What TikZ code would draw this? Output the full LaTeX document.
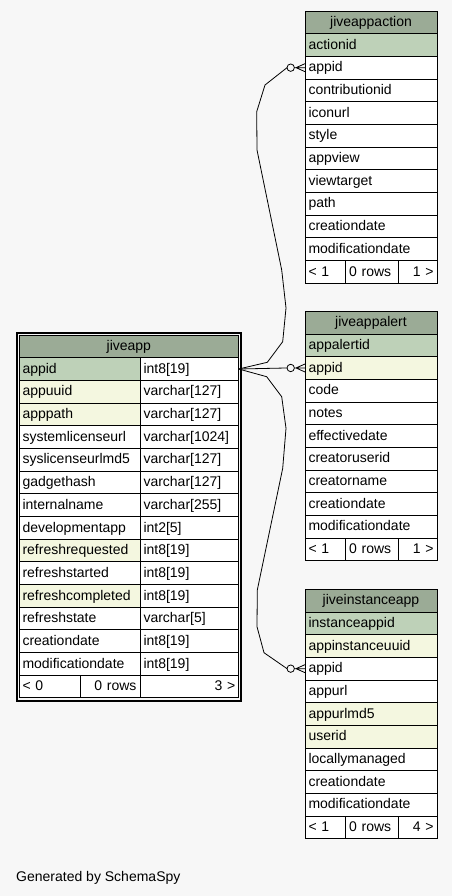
\documentclass[tikz,border=0pt]{standalone}
\usepackage{fontspec}
\setmainfont{Liberation Sans}
\usetikzlibrary{calc}
\definecolor{bgcol}{HTML}{F7F7F7}
\definecolor{headcol}{HTML}{9BAB96}
\definecolor{keycol}{HTML}{BED1B8}
\definecolor{idxcol}{HTML}{F4F7E0}
\hyphenpenalty=10000
\exhyphenpenalty=10000

\tikzset{
  cell/.style={draw, line width=0.9pt, anchor=north west, minimum height=22.67,
    inner xsep=3.5, inner ysep=0, outer sep=0, text height=10.8, text depth=2.2,
    font=\fontsize{14}{16}\selectfont},
  col/.style={cell, fill=white, align=left},
  key/.style={cell, fill=keycol, align=left},
  idx/.style={cell, fill=idxcol, align=left},
  head/.style={cell, fill=headcol, align=center},
  rcol/.style={cell, fill=white, align=right},
  fk/.style={line width=0.8pt},
}

\begin{document}
\begin{tikzpicture}[x=1pt,y=-1pt]
\fill[bgcol] (0,0) rectangle (452,896);
\useasboundingbox (0,0) rectangle (452,896);

% jiveappaction
\node[head, text width=125] (act) at (305,11) {jiveappaction};
\foreach \cname/\sty [count=\i] in {actionid/key, appid/col, contributionid/col,
    iconurl/col, style/col, appview/col, viewtarget/col, path/col,
    creationdate/col, modificationdate/col}
  \node[\sty, text width=125] (act-\cname) at (305,11+\i*22.67) {\cname};
\node[col, text width=33.7] (act-prev) at (305,260.4) {< 1};
\node[col, text width=45.6] (act-rows) at (345.7,260.4) {0 rows};
\node[rcol, text width=31.7] (act-next) at (398.3,260.4) {1 >};

% jiveappalert
\node[head, text width=125] (alert) at (305,311.3) {jiveappalert};
\foreach \cname/\sty [count=\i] in {appalertid/key, appid/idx, code/col, notes/col,
    effectivedate/col, creatoruserid/col, creatorname/col, creationdate/col,
    modificationdate/col}
  \node[\sty, text width=125] (alert-\cname) at (305,311.3+\i*22.67) {\cname};
\node[col, text width=33.7] (alert-prev) at (305,538) {< 1};
\node[col, text width=45.6] (alert-rows) at (345.7,538) {0 rows};
\node[rcol, text width=31.7] (alert-next) at (398.3,538) {1 >};

% jiveinstanceapp
\node[head, text width=125] (inst) at (305,589.3) {jiveinstanceapp};
\foreach \cname/\sty [count=\i] in {instanceappid/key, appinstanceuuid/idx, appid/col,
    appurl/col, appurlmd5/idx, userid/idx, locallymanaged/col, creationdate/col,
    modificationdate/col}
  \node[\sty, text width=125] (inst-\cname) at (305,589.3+\i*22.67) {\cname};
\node[col, text width=33.7] (inst-prev) at (305,816) {< 1};
\node[col, text width=45.6] (inst-rows) at (345.7,816) {0 rows};
\node[rcol, text width=31.7] (inst-next) at (398.3,816) {4 >};

% jiveapp
\draw[line width=1.8pt] (17,333) rectangle (240.8,700.8);
\node[head, text width=212.7] (app) at (19,335) {jiveapp};
\foreach \cname/\sty/\ctype [count=\i] in {appid/key/int8[19], appuuid/idx/varchar[127],
    apppath/idx/varchar[127], systemlicenseurl/col/varchar[1024],
    syslicenseurlmd5/col/varchar[127], gadgethash/col/varchar[127],
    internalname/col/varchar[255], developmentapp/col/int2[5],
    refreshrequested/idx/int8[19], refreshstarted/col/int8[19],
    refreshcompleted/idx/int8[19], refreshstate/col/varchar[5],
    creationdate/col/int8[19], modificationdate/col/int8[19]}{
  \node[\sty, text width=114] (app-\cname) at (19,335+\i*22.67) {\cname};
  \node[col, text width=91.7] (app-\cname-t) at (140,335+\i*22.67) {\ctype};
}
\node[col, text width=54.7] (app-prev) at (19,675) {< 0};
\node[rcol, text width=52.3] (app-rows) at (80.7,675) {0 rows};
\node[rcol, text width=91.7] (app-next) at (140,675) {3 >};

% crow's feet
\foreach \tg in {act-appid, alert-appid, inst-appid}{
  \draw[fk] ($(\tg.west)+(0,-4)$) -- ($(\tg.west)+(-9,0)$) -- ($(\tg.west)+(0,4)$)
    (\tg.west) -- ++(-10.5,0);
  \draw[fk, fill=bgcol] ($(\tg.west)+(-14.3,0)$) circle (3.7);
  \coordinate (\tg-o) at ($(\tg.west)+(-18,0)$);
}

\draw[fk] (app-appid-t.east) -- (267.3,362.3) -- (282.7,341.7) -- (286,308)
  -- (281.7,270) -- (257,150) -- (256.7,111.7) -- (265,85) -- (act-appid-o);
\draw[fk] (app-appid-t.east) -- (alert-appid-o);
\draw[fk] (app-appid-t.east) -- (266.7,376.7) -- (281.7,396.7) -- (286,428.3)
  -- (282.7,468.3) -- (257.3,590) -- (257,626.7) -- (264,652.7) -- (inst-appid-o);

\node[anchor=west, inner sep=0, font=\fontsize{14}{16}\selectfont] (gen) at (16,878)
  {Generated by SchemaSpy};
\end{tikzpicture}
\end{document}
